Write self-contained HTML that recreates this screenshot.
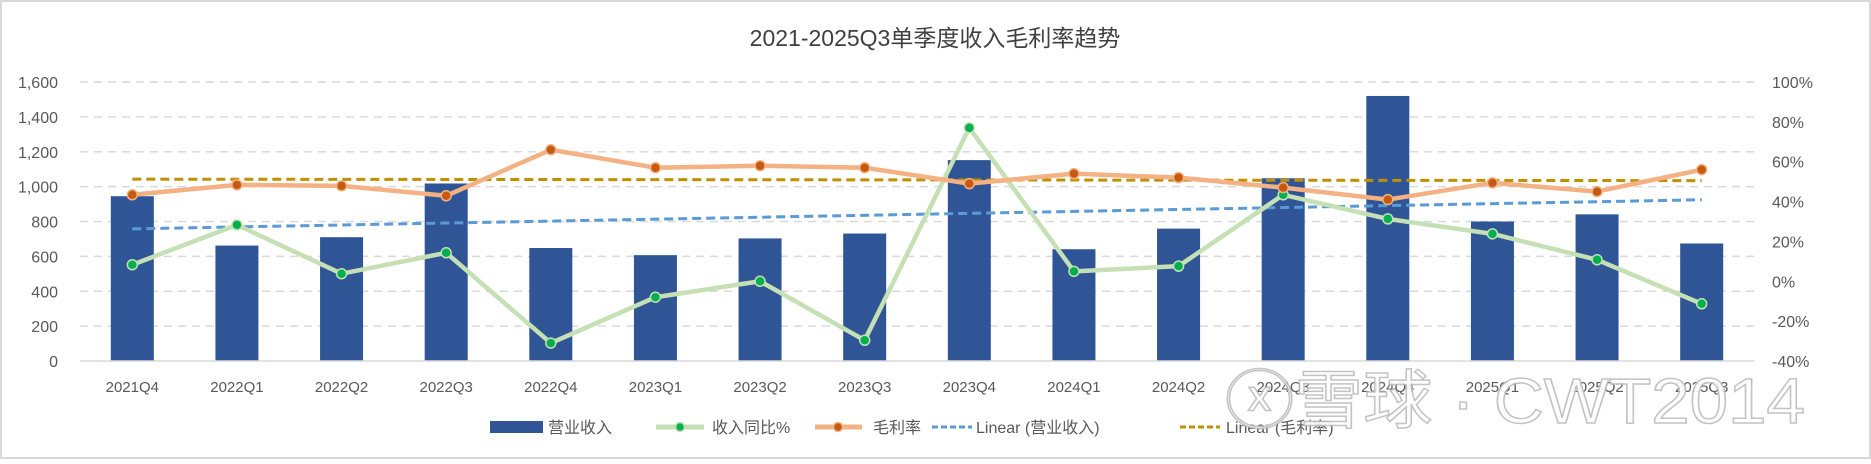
<!DOCTYPE html>
<html><head><meta charset="utf-8">
<style>
html,body{margin:0;padding:0;background:#fff;}
body{width:1871px;height:459px;overflow:hidden;position:relative;font-family:"Liberation Sans","Noto Sans CJK SC",sans-serif;}
svg text{font-family:"Liberation Sans","Noto Sans CJK SC",sans-serif;}
</style></head>
<body>
<svg id="chart" width="1871" height="459" viewBox="0 0 1871 459" xmlns="http://www.w3.org/2000/svg">
<rect x="1" y="1" width="1869" height="457" fill="#fff" stroke="#d9d9d9" stroke-width="2"/>
<text x="935" y="46" text-anchor="middle" font-size="23" fill="#404040">2021-2025Q3单季度收入毛利率趋势</text>
<g id="grid"></g><g id="bars"></g><g id="trends"></g><g id="lines"></g><g id="axes"></g>
<g id="legend">
  <rect x="490" y="421" width="53" height="12" fill="#2f5597"/>
  <text x="548" y="433" font-size="16" fill="#595959">营业收入</text>
  <line x1="656" y1="427" x2="704" y2="427" stroke="#c5e0b4" stroke-width="5"/>
  <circle cx="680" cy="427" r="4.5" fill="#00b050" stroke="#c5e0b4" stroke-width="1.5"/>
  <text x="712" y="433" font-size="16" fill="#595959">收入同比%</text>
  <line x1="815" y1="427" x2="862" y2="427" stroke="#f4b183" stroke-width="5"/>
  <circle cx="838" cy="427" r="4.5" fill="#c55a11" stroke="#f4b183" stroke-width="1.5"/>
  <text x="873" y="433" font-size="16" fill="#595959">毛利率</text>
  <line x1="932" y1="427" x2="972" y2="427" stroke="#5b9bd5" stroke-width="3" stroke-dasharray="6,3"/>
  <text x="976" y="433" font-size="16" fill="#595959">Linear (营业收入)</text>
  <line x1="1180" y1="427" x2="1220" y2="427" stroke="#bf9000" stroke-width="3" stroke-dasharray="6,3"/>
  <text x="1226" y="433" font-size="16" fill="#595959">Linear (毛利率)</text>
</g>
<text x="1225" y="423" font-size="64" textLength="580" lengthAdjust="spacingAndGlyphs" fill="#ffffff" stroke="#bdbdbd" stroke-width="1.5" opacity="0.9">ⓧ雪球 · CWT2014</text>
</svg>
<script>
const categories=["2021Q4","2022Q1","2022Q2","2022Q3","2022Q4","2023Q1","2023Q2","2023Q3","2023Q4","2024Q1","2024Q2","2024Q3","2024Q4","2025Q1","2025Q2","2025Q3"];
const revenue=[945,662,710,1018,648,607,703,731,1152,641,759,1048,1520,800,841,674];
const yoyPct=[8.3,28.3,3.8,14.3,-31,-8,0,-29.6,77,5,7.6,43.4,31.3,23.8,10.8,-11.3];
const marginPct=[43.4,48.4,47.9,42.9,66,57,58,57,49,54,52,47,41,49.4,45,56];
const leftTicks=[0,200,400,600,800,1000,1200,1400,1600];
const rightTicks=[-40,-20,0,20,40,60,80,100];

const NS="http://www.w3.org/2000/svg";
const X0=80,X1=1754,YT=82,YB=361;
const band=(X1-X0)/categories.length;
const xc=i=>X0+band*(i+0.5);
const yL=v=>YB-(v/1600)*(YB-YT);
const yR=v=>YB-((v+40)/140)*(YB-YT);
function mk(tag,attrs,parent){const e=document.createElementNS(NS,tag);for(const k in attrs)e.setAttribute(k,attrs[k]);document.getElementById(parent).appendChild(e);return e;}

leftTicks.forEach(t=>{
  if(t>0){const g=mk('line',{x1:X0,x2:X1,y1:yL(t),y2:yL(t),stroke:'#d9d9d9','stroke-width':1.5,'stroke-dasharray':'8,6'},'grid');
  
  }
  const tx=mk('text',{x:58,y:yL(t)+6,'text-anchor':'end','font-size':16,fill:'#595959'},'axes');
  tx.textContent=t.toLocaleString('en-US');
  
  
});
rightTicks.forEach(t=>{
  const tx=mk('text',{x:1772,y:yR(t)+6,'font-size':16,fill:'#595959'},'axes');
  tx.textContent=t+'%';
  
  
});
const ax=mk('line',{x1:X0,x2:X1,y1:YB,y2:YB,stroke:'#d9d9d9','stroke-width':1.5},'axes');



categories.forEach((c,i)=>{
  const b=mk('rect',{x:xc(i)-21.5,y:yL(revenue[i]),width:43,height:YB-yL(revenue[i]),fill:'#2f5597'},'bars');
  
  
  const t=mk('text',{x:xc(i),y:392,'text-anchor':'middle','font-size':15,fill:'#595959'},'axes');
  t.textContent=c;
  
  
});

function fit(arr){const n=arr.length;let sx=0,sy=0,sxy=0,sxx=0;arr.forEach((v,i)=>{sx+=i;sy+=v;sxy+=i*v;sxx+=i*i;});const m=(n*sxy-sx*sy)/(n*sxx-sx*sx);return [sy/n-m*sx/n,m];}
const [ra,rm]=fit(revenue), [ma,mm]=fit(marginPct);
const n=categories.length-1;
const t1=mk('line',{x1:xc(0),x2:xc(n),y1:yL(ra),y2:yL(ra+rm*n),stroke:'#5b9bd5','stroke-width':3,'stroke-dasharray':'9,5'},'trends');


const t2=mk('line',{x1:xc(0),x2:xc(n),y1:yR(ma),y2:yR(ma+mm*n),stroke:'#bf9000','stroke-width':3,'stroke-dasharray':'9,5'},'trends');



function series(arr,lineC,dotC,name){
  const p=mk('polyline',{points:arr.map((v,i)=>xc(i)+','+yR(v)).join(' '),fill:'none',stroke:lineC,'stroke-width':4.5,'stroke-linejoin':'round'},'lines');
  
  
  arr.forEach((v,i)=>{
    const c=mk('circle',{cx:xc(i),cy:yR(v),r:5,fill:dotC,stroke:lineC,'stroke-width':1.5},'lines');
    
    
  });
}
series(yoyPct,'#c5e0b4','#00b050','yoy');
series(marginPct,'#f4b183','#c55a11','margin');
</script>
</body></html>
